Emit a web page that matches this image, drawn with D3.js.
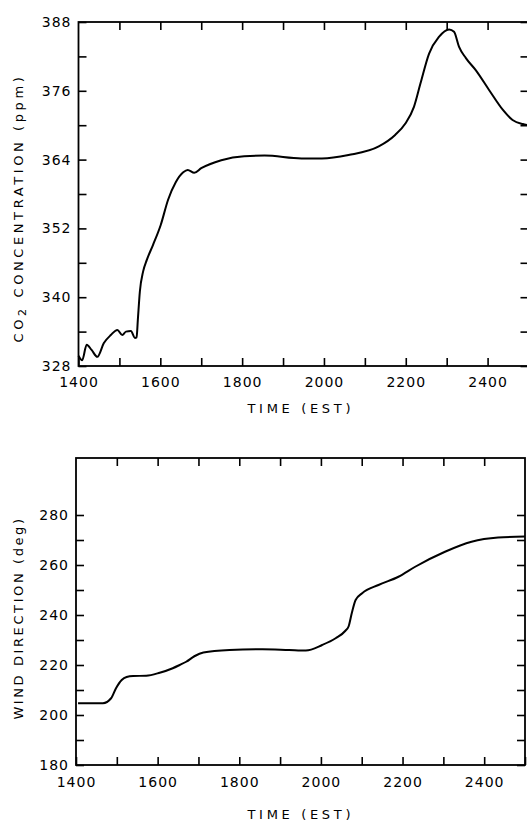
<!DOCTYPE html>
<meta charset="utf-8">
<style>
  body { margin: 0; background: #fff; }
  .line { fill: none; stroke: #000; stroke-width: 2px; }
  .frame { fill: none; stroke: #000; stroke-width: 1.8px; }
  .axis text { font-family: "DejaVu Sans", sans-serif; font-size: 14px; fill: #000; letter-spacing: 1px; }
  .axis line { stroke: #000; stroke-width: 1.6px; }
  .title { font-family: "DejaVu Sans", sans-serif; font-size: 13px; fill: #000; }
</style>
<body>
<script src="https://d3js.org/d3.v7.min.js"></script>
<script>

// CO2 concentration (ppm) vs time (EST)
var co2Time = [1400, 1409, 1420, 1432, 1446, 1462, 1479, 1495, 1507, 1516, 1528, 1538, 1542, 1545, 1550, 1558,
               1567, 1582, 1601, 1619, 1638, 1656, 1667, 1683, 1700, 1749, 1805, 1855, 1945, 1995, 2060, 2134,
               2174, 2199, 2220, 2236, 2257, 2281, 2306, 2318, 2330, 2347, 2371, 2404, 2437, 2461, 2486, 2500];
var co2Value = [329.8, 329.0, 331.7, 330.8, 329.6, 332.0, 333.4, 334.3, 333.4, 334.0, 334.1, 332.9, 333.0, 336.0, 341.0, 344.5,
                346.5, 349.1, 352.6, 357.0, 360.1, 361.8, 362.2, 361.7, 362.5, 363.9, 364.6, 364.7, 364.2, 364.2, 364.8, 366.3,
                368.3, 370.3, 373.2, 377.3, 382.5, 385.4, 386.7, 386.3, 383.7, 381.7, 379.6, 376.1, 372.7, 370.9, 370.2, 370.0];

// wind direction (deg) vs time (EST)
var windTime = [1405, 1466, 1486, 1498, 1512, 1524, 1540, 1572, 1605, 1637, 1654, 1670, 1690, 1712, 1776, 1857,
                1922, 1963, 2003, 2036, 2060, 2068, 2076, 2085, 2101, 2141, 2190, 2231, 2304, 2369, 2434, 2500];
var windValue = [204.7, 204.7, 206.7, 210.7, 214.0, 215.2, 215.6, 215.7, 216.9, 218.7, 220.0, 221.3, 223.5, 225.0, 226.0, 226.3,
                 226.0, 225.8, 228.0, 230.7, 233.7, 235.5, 241.0, 246.0, 248.7, 252.0, 255.3, 259.3, 265.3, 269.3, 271.0, 271.4];

var timeTicks = d3.range(1400, 2501, 100);
var co2Ticks = d3.range(328, 389, 6);
var windTicks = d3.range(180, 281, 10);

var svg = d3.select("body").append("svg")
    .attr("width", 527)
    .attr("height", 822);

function timeFormat(d) { return (d % 200 === 0 && d <= 2400) ? d : ""; }

function drawPanel(opt) {
  var x = d3.scaleLinear().domain([1400, 2500]).range([opt.left, opt.right]);
  var y = d3.scaleLinear().domain(opt.yDomain).range([opt.bottom, opt.top]);

  // bottom axis, ticks pointing in
  svg.append("g")
      .attr("class", "axis")
      .attr("transform", "translate(0," + opt.bottom + ")")
      .call(d3.axisBottom(x).tickValues(timeTicks).tickFormat(timeFormat)
            .tickSizeInner(-8).tickSizeOuter(0).tickPadding(opt.xPad))
      .call(function(g) { g.select(".domain").remove(); });

  svg.append("g")
      .attr("class", "axis")
      .attr("transform", "translate(0," + opt.top + ")")
      .call(d3.axisTop(x).tickValues(timeTicks.slice(1, -1)).tickFormat("")
            .tickSizeInner(-8).tickSizeOuter(0))
      .call(function(g) { g.select(".domain").remove(); });

  svg.append("g")
      .attr("class", "axis")
      .attr("transform", "translate(" + opt.left + ",0)")
      .call(d3.axisLeft(y).tickValues(opt.yTicks).tickFormat(opt.yFormat)
            .tickSizeInner(-8).tickSizeOuter(0).tickPadding(7))
      .call(function(g) { g.select(".domain").remove(); });

  svg.append("g")
      .attr("class", "axis")
      .attr("transform", "translate(" + opt.right + ",0)")
      .call(d3.axisRight(y).tickValues(opt.yTicks).tickFormat("")
            .tickSizeInner(-8).tickSizeOuter(0))
      .call(function(g) { g.select(".domain").remove(); });

  svg.append("rect")
      .attr("class", "frame")
      .attr("x", opt.left)
      .attr("y", opt.top)
      .attr("width", opt.right - opt.left)
      .attr("height", opt.bottom - opt.top);

  var line = d3.line()
      .x(function(d) { return x(d[0]); })
      .y(function(d) { return y(d[1]); })
      .curve(d3.curveMonotoneX);

  svg.append("path")
      .datum(d3.zip(opt.xs, opt.ys))
      .attr("class", "line")
      .attr("d", line);

  svg.append("text")
      .attr("class", "title")
      .attr("x", 299)
      .attr("y", opt.bottom + opt.titleGap)
      .attr("text-anchor", "middle")
      .attr("textLength", 103)
      .attr("lengthAdjust", "spacing")
      .text("TIME (EST)");
}

// top panel runs off the right edge of the picture
drawPanel({
  left: 78.5, right: 528.5, top: 22, bottom: 366,
  yDomain: [328, 388], yTicks: co2Ticks,
  yFormat: function(d) { return (d - 328) % 12 === 0 ? d : ""; },
  xs: co2Time, ys: co2Value, xPad: 11, titleGap: 47
});

drawPanel({
  left: 76, right: 525, top: 458, bottom: 765,
  yDomain: [180, 302.8], yTicks: windTicks,
  yFormat: function(d) { return d % 20 === 0 ? d : ""; },
  xs: windTime, ys: windValue, xPad: 12, titleGap: 54
});

// y axis titles
var co2Title = svg.append("text")
    .attr("class", "title")
    .attr("transform", "translate(23,208) rotate(-90)")
    .attr("text-anchor", "middle")
    .attr("letter-spacing", "3.6px");
co2Title.append("tspan").text("CO");
co2Title.append("tspan").attr("dy", 3).attr("font-size", "11px").text("2");
co2Title.append("tspan").attr("dy", -3).text(" CONCENTRATION (ppm)");

svg.append("text")
    .attr("class", "title")
    .attr("transform", "translate(23,618) rotate(-90)")
    .attr("text-anchor", "middle")
    .attr("letter-spacing", "2.6px")
    .text("WIND DIRECTION (deg)");

</script>
</body>
